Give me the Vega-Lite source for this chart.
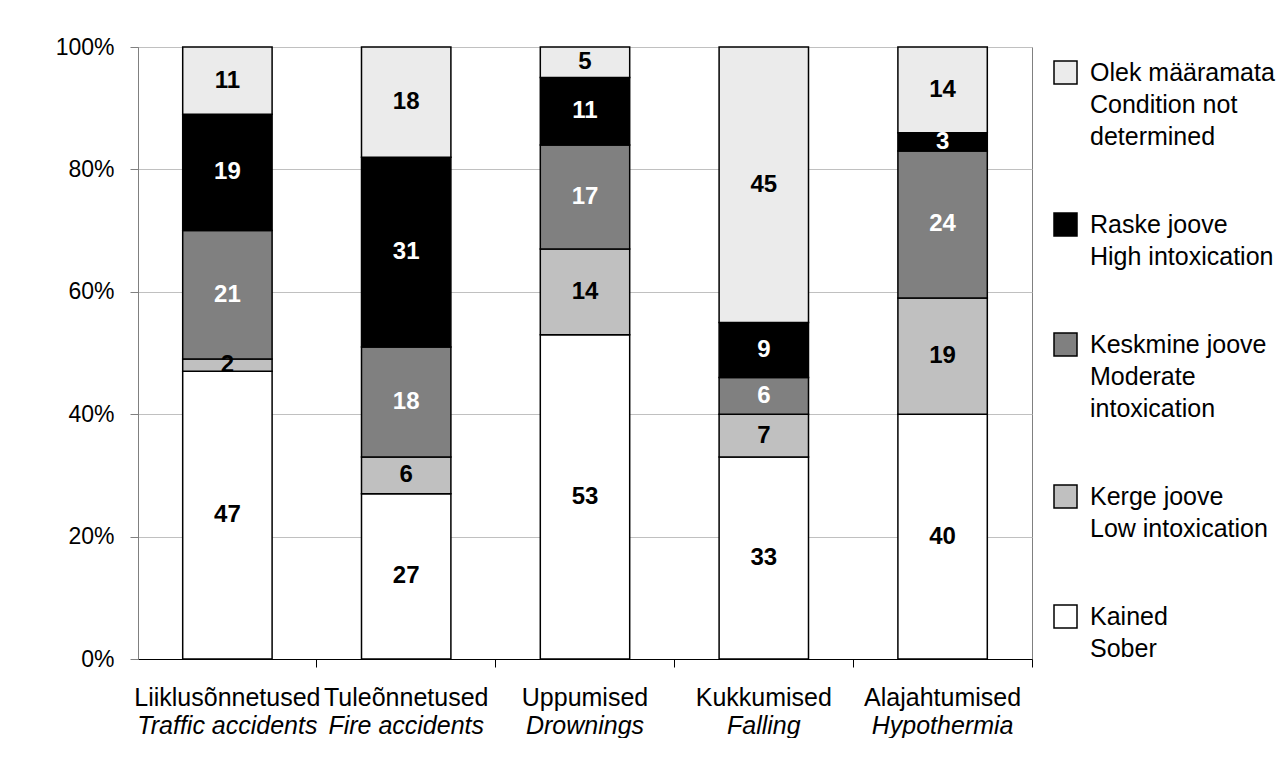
{
  "$schema": "https://vega.github.io/schema/vega-lite/v6.json",
  "width": 894,
  "height": 612,
  "padding": {"left": 55, "top": 36, "right": 0, "bottom": 0},
  "background": "white",
  "config": {
    "view": {"stroke": "#808080", "strokeWidth": 1},
    "font": "Liberation Sans",
    "axis": {"labelColor": "black", "labelFont": "Liberation Sans"},
    "legend": {"labelColor": "black", "labelFont": "Liberation Sans"}
  },
  "data": {
    "values": [
      {"cat": "Traffic accidents", "state": "Kained", "order": 1, "value": 47},
      {"cat": "Traffic accidents", "state": "Kerge joove", "order": 2, "value": 2},
      {"cat": "Traffic accidents", "state": "Keskmine joove", "order": 3, "value": 21},
      {"cat": "Traffic accidents", "state": "Raske joove", "order": 4, "value": 19},
      {"cat": "Traffic accidents", "state": "Olek määramata", "order": 5, "value": 11},
      {"cat": "Fire accidents", "state": "Kained", "order": 1, "value": 27},
      {"cat": "Fire accidents", "state": "Kerge joove", "order": 2, "value": 6},
      {"cat": "Fire accidents", "state": "Keskmine joove", "order": 3, "value": 18},
      {"cat": "Fire accidents", "state": "Raske joove", "order": 4, "value": 31},
      {"cat": "Fire accidents", "state": "Olek määramata", "order": 5, "value": 18},
      {"cat": "Drownings", "state": "Kained", "order": 1, "value": 53},
      {"cat": "Drownings", "state": "Kerge joove", "order": 2, "value": 14},
      {"cat": "Drownings", "state": "Keskmine joove", "order": 3, "value": 17},
      {"cat": "Drownings", "state": "Raske joove", "order": 4, "value": 11},
      {"cat": "Drownings", "state": "Olek määramata", "order": 5, "value": 5},
      {"cat": "Falling", "state": "Kained", "order": 1, "value": 33},
      {"cat": "Falling", "state": "Kerge joove", "order": 2, "value": 7},
      {"cat": "Falling", "state": "Keskmine joove", "order": 3, "value": 6},
      {"cat": "Falling", "state": "Raske joove", "order": 4, "value": 9},
      {"cat": "Falling", "state": "Olek määramata", "order": 5, "value": 45},
      {"cat": "Hypothermia", "state": "Kained", "order": 1, "value": 40},
      {"cat": "Hypothermia", "state": "Kerge joove", "order": 2, "value": 19},
      {"cat": "Hypothermia", "state": "Keskmine joove", "order": 3, "value": 24},
      {"cat": "Hypothermia", "state": "Raske joove", "order": 4, "value": 3},
      {"cat": "Hypothermia", "state": "Olek määramata", "order": 5, "value": 14}
    ]
  },
  "transform": [
    {"stack": "value", "groupby": ["cat"], "sort": [{"field": "order", "order": "ascending"}], "offset": "normalize", "as": ["y0", "y1"]}
  ],
  "layer": [
    {
      "mark": {"type": "bar", "stroke": "black", "strokeWidth": 1.5},
      "encoding": {
        "x": {
          "field": "cat", "type": "nominal",
          "sort": ["Traffic accidents", "Fire accidents", "Drownings", "Falling", "Hypothermia"],
          "scale": {"paddingInner": 0.5, "paddingOuter": 0.25},
          "axis": {"title": null, "orient": "bottom", "labels": false, "bandPosition": 1.5, "tickSize": 8, "domainColor": "black", "tickColor": "black", "grid": false}
        },
        "y": {
          "field": "y0", "type": "quantitative", "title": null,
          "scale": {"domain": [0, 1], "nice": false},
          "axis": {
            "title": null, "values": [0, 0.2, 0.4, 0.6, 0.8, 1], "format": ".0%",
            "labelFontSize": 23, "tickSize": 8, "labelPadding": 16,
            "domainColor": "#808080", "tickColor": "#808080",
            "gridColor": "#c0c0c0", "gridWidth": 1
          }
        },
        "y2": {"field": "y1"},
        "fill": {
          "field": "state", "type": "nominal",
          "scale": {
            "domain": ["Olek määramata", "Raske joove", "Keskmine joove", "Kerge joove", "Kained"],
            "range": ["#ebebeb", "#000000", "#808080", "#c0c0c0", "#ffffff"]
          },
          "legend": {
            "title": null, "orient": "right", "offset": 8, "padding": 13,
            "symbolType": "square", "symbolSize": 529, "symbolStrokeColor": "black", "symbolStrokeWidth": 1.5,
            "labelFontSize": 25, "labelOffset": 12, "labelLimit": 400, "rowPadding": 60,
            "encode": {"labels": {"update": {"lineHeight": {"value": 32}}}},
            "labelExpr": "datum.label == 'Olek määramata' ? ['Olek määramata', 'Condition not', 'determined'] : datum.label == 'Raske joove' ? ['Raske joove', 'High intoxication'] : datum.label == 'Keskmine joove' ? ['Keskmine joove', 'Moderate', 'intoxication'] : datum.label == 'Kerge joove' ? ['Kerge joove', 'Low intoxication'] : ['Kained', 'Sober']"
          }
        }
      }
    },
    {
      "transform": [
        {"filter": "datum.state != 'Raske joove' && datum.state != 'Keskmine joove'"},
        {"fold": ["y0", "y1"], "as": ["edge", "pos"]},
        {"aggregate": [{"op": "mean", "field": "pos", "as": "mid"}], "groupby": ["cat", "state", "value"]}
      ],
      "mark": {"type": "text", "fontSize": 24, "fontWeight": "bold", "color": "black"},
      "encoding": {
        "x": {
          "field": "cat", "type": "nominal",
          "sort": ["Traffic accidents", "Fire accidents", "Drownings", "Falling", "Hypothermia"],
          "axis": {
            "title": null, "orient": "bottom", "domain": false, "tickOpacity": 0, "tickSize": 8, "grid": false,
            "labelPadding": 18, "labelFontSize": 25, "labelAngle": 0, "labelLimit": 400, "labelOverlap": false,
            "labelExpr": "datum.label == 'Traffic accidents' ? 'Liiklusõnnetused' : datum.label == 'Fire accidents' ? 'Tuleõnnetused' : datum.label == 'Drownings' ? 'Uppumised' : datum.label == 'Falling' ? 'Kukkumised' : 'Alajahtumised'"
          }
        },
        "y": {"field": "mid", "type": "quantitative", "title": null},
        "text": {"field": "value", "type": "quantitative"}
      }
    },
    {
      "transform": [
        {"filter": "datum.state == 'Raske joove' || datum.state == 'Keskmine joove'"},
        {"fold": ["y0", "y1"], "as": ["edge", "pos"]},
        {"aggregate": [{"op": "mean", "field": "pos", "as": "mid"}], "groupby": ["cat", "state", "value"]}
      ],
      "mark": {"type": "text", "fontSize": 24, "fontWeight": "bold", "color": "white"},
      "encoding": {
        "x": {
          "field": "cat", "type": "nominal",
          "sort": ["Traffic accidents", "Fire accidents", "Drownings", "Falling", "Hypothermia"],
          "axis": {
            "title": null, "orient": "bottom", "domain": false, "tickOpacity": 0, "tickSize": 8, "grid": false,
            "labelPadding": 46, "labelFontSize": 25, "labelFontStyle": "italic", "labelAngle": 0, "labelLimit": 400, "labelOverlap": false
          }
        },
        "y": {"field": "mid", "type": "quantitative", "title": null},
        "text": {"field": "value", "type": "quantitative"}
      }
    }
  ],
  "resolve": {"axis": {"x": "independent"}}
}
